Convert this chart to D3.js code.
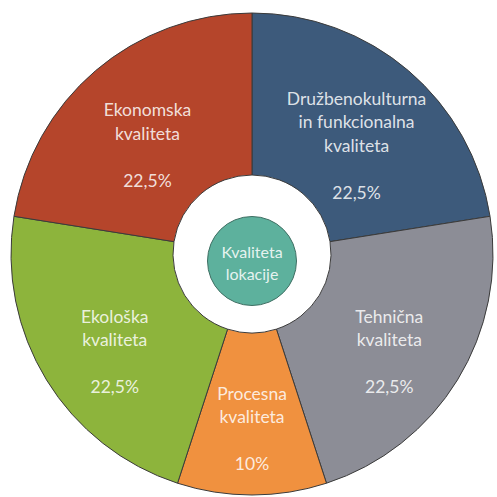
<!DOCTYPE html>
<html>
<head>
<meta charset="utf-8">
<script src="https://cdn.jsdelivr.net/npm/d3@7"></script>
<style>
  html,body{margin:0;padding:0;background:#fff;}
  svg{display:block;}
  text{font-family:Lato,"Open Sans",sans-serif;}
</style>
</head>
<body>
<div id="chart"></div>
<script>
// segments, clockwise from 12 o'clock
var categories=["Družbenokulturna|in funkcionalna|kvaliteta","Tehnična|kvaliteta","Procesna|kvaliteta","Ekološka|kvaliteta","Ekonomska|kvaliteta"];
var values=[22.5,22.5,10,22.5,22.5];
var colors=["#3d5a7b","#8c8d96","#f0913f","#8db43c","#b5452b"];
var centerLabel=["Kvaliteta","lokacije"];

var W=497,H=497, cx=252, cy=254, R=241, r0=79;
var svg=d3.select("#chart").append("svg").attr("width",W).attr("height",H);
var g=svg.append("g").attr("transform","translate("+cx+","+cy+")");

var rows=categories.map(function(c,i){return {name:c,value:values[i],color:colors[i]};});
var pie=d3.pie().sort(null).value(function(d){return d.value;});
var arc=d3.arc().innerRadius(r0).outerRadius(R);
var labelArc=d3.arc().innerRadius(161).outerRadius(161);
var fmt=function(v){return String(v).replace(".",",")+"%";};

var arcs=pie(rows);
g.selectAll("path.seg").data(arcs).enter().append("path").attr("class","seg")
    .attr("d",arc).attr("fill",function(d){return d.data.color;})
    .attr("stroke","#3b3b3b").attr("stroke-width",1);

// labels: name lines, blank line, percentage
var lh=23.5;
var lbl=g.selectAll("g.lbl").data(arcs).enter().append("g").attr("class","lbl")
    .attr("transform",function(d){var c=labelArc.centroid(d);return "translate("+c[0]+","+(c[1]+14)+")";});
lbl.each(function(d){
    var lines=d.data.name.split("|").concat(["",fmt(d.data.value)]);
    var n=lines.length, sel=d3.select(this);
    lines.forEach(function(t,i){
        if(!t) return;
        sel.append("text").attr("x",0).attr("y",(i-(n-1)/2)*lh).attr("dy","0.35em")
            .attr("text-anchor","middle").style("font-size","17.5px")
            .attr("fill","#fff").attr("fill-opacity",0.84).text(t);
    });
});

// centre circle
g.append("circle").attr("cx",0).attr("cy",7).attr("r",44.5)
    .attr("fill","#5db19d").attr("stroke","#3f6f63").attr("stroke-width",1);
centerLabel.forEach(function(t,i){
    g.append("text").attr("x",0).attr("y",-2+i*22.5).attr("dy","0.35em").attr("text-anchor","middle")
        .style("font-size","16px").attr("fill","#fff").attr("fill-opacity",0.86).text(t);
});
</script>
</body>
</html>
